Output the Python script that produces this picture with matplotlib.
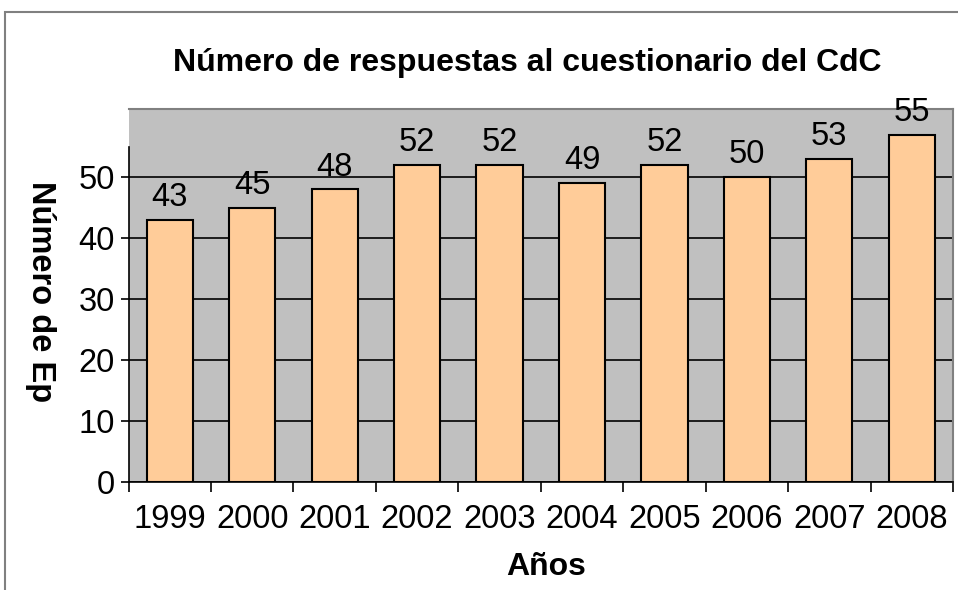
import matplotlib
matplotlib.use("Agg")
import matplotlib.pyplot as plt
from matplotlib.patches import Rectangle

plt.rcParams['font.family'] = ['Liberation Sans', 'DejaVu Sans']

# data
years = ['1999', '2000', '2001', '2002', '2003', '2004', '2005', '2006', '2007', '2008']
bar_heights = [43, 45, 48, 52, 52, 49, 52, 50, 53, 57]
bar_labels = ['43', '45', '48', '52', '52', '49', '52', '50', '53', '55']
y_ticks = [0, 10, 20, 30, 40, 50]

fig = plt.figure(figsize=(9.58, 5.90), dpi=100)
ax = fig.add_axes([128.5 / 958, 1 - 482 / 590, (953 - 128.5) / 958, (482 - 109) / 590])

# chart frame (outer border of the excel chart object)
fig.patches.append(Rectangle((5 / 958, -0.1), 1.2, 1.1 - 12 / 590, transform=fig.transFigure,
                             fill=False, edgecolor='#808080', linewidth=1.5))

x = list(range(len(years)))
ax.set_facecolor('#C0C0C0')
ax.bar(x, bar_heights, width=0.56, color='#FFCC99', edgecolor='black', linewidth=1.5, zorder=3)

for xi, h, lab in zip(x, bar_heights, bar_labels):
    ax.annotate(lab, (xi, h), xytext=(0, 5), textcoords='offset points',
                ha='center', va='bottom', fontsize=23.5, zorder=4)

ax.set_xlim(-0.5, len(years) - 0.5)
ax.set_ylim(0, 61.2)

ax.set_yticks(y_ticks)
ax.set_yticklabels([str(t) for t in y_ticks], fontsize=23.5)
ax.yaxis.grid(True, color='black', linewidth=1.2, zorder=1)
ax.set_axisbelow(True)

ax.set_xticks(x)
ax.set_xticklabels(years, fontsize=23.5)
ax.set_xticks([i - 0.5 for i in range(len(years) + 1)], minor=True)
ax.tick_params(axis='x', which='major', length=0, pad=16)
ax.tick_params(axis='x', which='minor', length=7, width=1.2, direction='out')
ax.tick_params(axis='y', length=6, width=1.2, direction='out', pad=4)

for side in ['top', 'right']:
    ax.spines[side].set_color('#808080')
    ax.spines[side].set_linewidth(1.5)
ax.spines['left'].set_color('black')
ax.spines['left'].set_linewidth(1.2)
ax.spines['left'].set_bounds(0, 55)
ax.spines['bottom'].set_color('black')
ax.spines['bottom'].set_linewidth(1.2)
ax.spines['bottom'].set_zorder(5)

fig.text(527 / 958, 1 - 63 / 590, 'Número de respuestas al cuestionario del CdC',
         ha='center', va='center', fontsize=23, fontweight='bold')
fig.text(40 / 958, 1 - 292 / 590, 'Número de Ep', rotation=-90,
         ha='center', va='center', fontsize=23.5, fontweight='bold')
fig.text(546 / 958, 1 - 567 / 590, 'Años', ha='center', va='center',
         fontsize=23, fontweight='bold')

fig.savefig('out.png', dpi=100)
